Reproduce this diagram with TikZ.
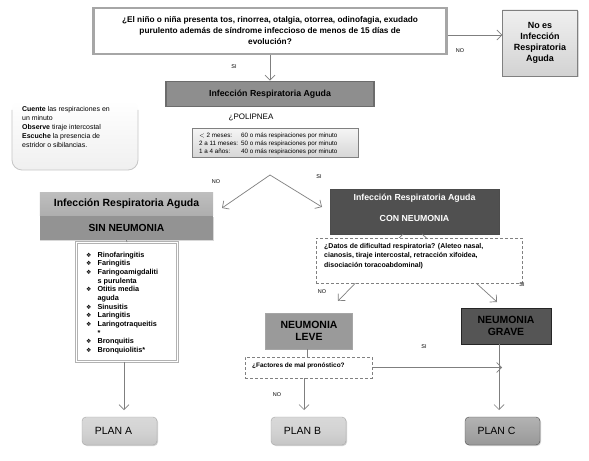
\documentclass[tikz,border=0pt]{standalone}
\usepackage{fontspec}
\setmainfont{Liberation Sans}
\newfontfamily\dejavu{DejaVu Sans}
\usetikzlibrary{arrows.meta,shadows}
\newcommand\fsz[2]{\fontsize{#1}{#2}\selectfont}
\definecolor{linegray}{HTML}{7F7F7F}
\definecolor{darkbox}{HTML}{505050}
\definecolor{midbox}{HTML}{8E8E8E}
\definecolor{sintop}{HTML}{AEAEAE}
\definecolor{sinbot}{HTML}{939393}
\definecolor{levefill}{HTML}{9A9A9A}
\definecolor{gravefill}{HTML}{555555}
\tikzset{
  conn/.style={draw=linegray, line width=0.7bp},
  arr/.style={conn, -{Straight Barb[length=5bp,width=10bp,line width=0.7bp]}},
  lbl/.style={font=\fsz{5.5}{6}, inner sep=0},
  box/.style={inner sep=0, align=center},
  dashbox/.style={draw=gray, dashed, line width=0.9bp, fill=white, dash pattern=on 3bp off 2bp},
}
\begin{document}
\begin{tikzpicture}[x=1bp,y=-1bp]
\useasboundingbox[fill=white] (0,0) rectangle (589,461);

% top question
\node[box, draw=gray!70, line width=2.5bp, fill=white, minimum width=353bp, minimum height=46bp,
  font=\bfseries\fsz{8.3}{11}] (q) at (270,31)
  {¿El niño o niña presenta tos, rinorrea, otalgia, otorrea, odinofagia, exudado\\
   purulento además de síndrome infeccioso de menos de 15 días de\\ evolución?};

\node[box, draw=gray, top color=gray!12, bottom color=gray!35, minimum width=75bp, minimum height=66bp,
  font=\bfseries\fsz{9}{11}, drop shadow={shadow xshift=1bp, shadow yshift=-1bp, opacity=0.3}] (noes) at (540,43)
  {No es\\Infección\\Respiratoria\\Aguda};

\draw[arr] (q.east |- 0,35) -- (noes.west |- 0,35);
\node[lbl] (lno1) at (460,51) {NO};

% IRA
\node[box, draw=gray!85!black, line width=1.6bp, fill=midbox, minimum width=208bp, minimum height=25bp,
  font=\bfseries\fsz{8.8}{10}] (ira) at (270,94) {Infección Respiratoria Aguda};
\draw[arr] (q.south -| 270,0) -- (ira.north);
\node[lbl] (lsi1) at (234,67) {SI};

\node[inner sep=0, font=\fsz{8}{9}] (pol) at (251,117) {¿POLIPNEA};

\node[draw=gray, line width=0.6bp, top color=gray!8, bottom color=gray!32, minimum width=166bp, minimum height=29bp,
  inner sep=0, drop shadow={shadow xshift=1bp, shadow yshift=-1bp, opacity=0.3}] (tab) at (275,143) {};
\node[inner sep=0, font=\fsz{6.3}{8}, anchor=north west] (tabtxt) at (199,132)
  {\begin{tabular}{@{}l@{\hspace{3bp}}l@{}}
   $<$ 2 meses: & 60 o más respiraciones por minuto\\
   2 a 11 meses: & 50 o más respiraciones por minuto\\
   1 a 4 años: & 40 o más respiraciones por minuto
   \end{tabular}};

% note box
\shade[top color=white, bottom color=gray!12, rounded corners=10bp] (12,100) -- (12,170) -- (138,170) -- (138,100) -- cycle;
\draw[gray!45, line width=0.8bp, rounded corners=10bp] (12,110) -- (12,170) -- (138,170) -- (138,110);
\node[inner sep=0, anchor=north west, align=left, font=\fsz{7}{9}] (note) at (22,106)
  {\textbf{Cuente} las respiraciones en\\un minuto\\\textbf{Observe} tiraje intercostal\\
   \textbf{Escuche} la presencia de\\estridor o sibilancias.};

% split
\coordinate (split) at (270,175);
\coordinate (sinhead) at (222,208);
\coordinate (conhead) at (322,207);
\draw[arr] (split) -- (sinhead);
\draw[arr] (split) -- (conhead);
\node[lbl] (lno2) at (216,182) {NO};
\node[lbl] (lsi2) at (319,177) {SI};

% SIN NEUMONIA
\node[box, top color=sintop!80, bottom color=sintop, minimum width=173bp, minimum height=23bp, font=\bfseries\fsz{10.5}{11}] (sin1) at (126.5,204) {Infección Respiratoria Aguda};
\node[box, fill=sinbot, minimum width=173bp, minimum height=24bp, font=\bfseries\fsz{10.3}{11}, anchor=north,
  drop shadow={shadow xshift=0.5bp, shadow yshift=-1.2bp, opacity=0.3}] (sin2) at (sin1.south) {SIN NEUMONIA};

% list
\node[draw=gray!60, double=white, double distance=1.5bp, line width=0.8bp, fill=white,
  minimum width=101bp, minimum height=119bp, inner sep=0] (list) at (127,302) {};
\node[inner sep=0, anchor=north west, font=\bfseries\fsz{7.3}{8.7}] (listtxt) at (86,251)
  {\begin{tabular}{@{}l@{\hspace{6bp}}l@{}}
  {\dejavu\mdseries\fsz{6}{8.7}❖} & Rinofaringitis\\
  {\dejavu\mdseries\fsz{6}{8.7}❖} & Faringitis\\
  {\dejavu\mdseries\fsz{6}{8.7}❖} & Faringoamigdaliti\\
   & s purulenta\\
  {\dejavu\mdseries\fsz{6}{8.7}❖} & Otitis media\\
   & aguda\\
  {\dejavu\mdseries\fsz{6}{8.7}❖} & Sinusitis\\
  {\dejavu\mdseries\fsz{6}{8.7}❖} & Laringitis\\
  {\dejavu\mdseries\fsz{6}{8.7}❖} & Laringotraqueitis\\
   & *\\
  {\dejavu\mdseries\fsz{6}{8.7}❖} & Bronquitis\\
  {\dejavu\mdseries\fsz{6}{8.7}❖} & Bronquiolitis*
  \end{tabular}};
\draw[conn] (sin2.south) -- (list.north);

% CON NEUMONIA
\node[box, draw=gray!60!black, fill=darkbox, minimum width=169bp, minimum height=45bp,
  drop shadow={shadow xshift=1bp, shadow yshift=-1bp, opacity=0.3}] (con) at (414.5,211.5) {};
\node[inner sep=0, text=white, font=\bfseries\fsz{8.8}{10}] (con1) at (414.5,198) {Infección Respiratoria Aguda};
\node[inner sep=0, text=white, font=\bfseries\fsz{8.8}{10}] (con2) at (414.5,218) {CON NEUMONIA};

% LEVE / GRAVE
\node[box, draw=gray!70, line width=0.8bp, fill=levefill, minimum width=87bp, minimum height=36bp,
  font=\bfseries\fsz{10.5}{12}] (leve) at (309,331) {NEUMONIA\\LEVE};
\node[box, draw=gray!30!black, line width=0.8bp, fill=gravefill, minimum width=90bp, minimum height=36bp,
  font=\bfseries\fsz{10.5}{12}, drop shadow={shadow xshift=1bp, shadow yshift=-1bp, opacity=0.3}] (grave) at (506,326) {NEUMONIA\\GRAVE};

\coordinate (lvtop) at (338,301);
\coordinate (grtop) at (497,302);
\draw[arr] (403,234) -- (lvtop);
\draw[arr] (422,234) -- (grtop);

\node[dashbox, minimum width=206bp, minimum height=45bp, inner sep=0] (datos) at (419,260.5) {};
\node[inner sep=0, anchor=north west, align=left, font=\bfseries\fsz{7}{9.5}] (datostxt) at (324,243)
  {¿Datos de dificultad respiratoria? (Aleteo nasal,\\cianosis, tiraje intercostal, retracción xifoidea,\\disociación toracoabdominal)};
\node[lbl] (lno3) at (322,292) {NO};
\node[lbl] (lsi3) at (522,285) {SI};

% factores
\node[dashbox, minimum width=127bp, minimum height=21bp, inner sep=0] (fac) at (308.5,367.5) {};
\node[inner sep=0, font=\bfseries\fsz{6.5}{7}, anchor=west] (factxt) at (252,366) {¿Factores de mal pronóstico?};
\draw[conn] (leve.south -| 307,0) -- (fac.north -| 307,0);

% plans
\tikzset{plan/.style={box, rounded corners=4bp, draw=gray!70, minimum width=75bp, minimum height=28bp,
  font=\fsz{10.5}{12}, drop shadow={shadow xshift=1bp, shadow yshift=-1bp, opacity=0.35}}}
\node[plan, top color=gray!30, bottom color=gray!45, middle color=gray!35] (pa) at (119.5,431) {\hspace*{-12bp}PLAN A};
\node[plan, top color=gray!30, bottom color=gray!45, middle color=gray!35] (pb) at (308.5,431) {\hspace*{-12bp}PLAN B};
\node[plan, draw=gray!60!black, top color=gray!60, bottom color=gray!80, middle color=gray!70] (pc) at (502.5,431) {\hspace*{-12bp}PLAN C};

\draw[arr] (list.south -| 124,0) -- (124,410);
\draw[arr] (fac.south -| 304,0) -- (304,410);
\node[lbl] (lno4) at (277,395) {NO};
\draw[arr] (grave.south -| 499,0) -- (499,410);
\draw[arr] (fac.east) -- (fac.east -| 502,0);
\node[lbl] (lsi4) at (424,347) {SI};
\end{tikzpicture}
\end{document}
